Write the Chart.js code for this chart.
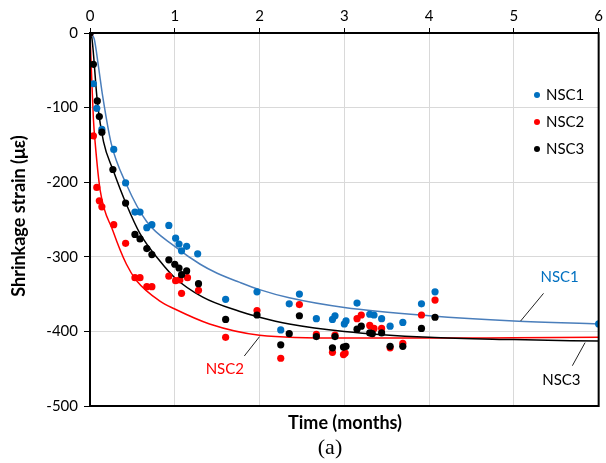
<!DOCTYPE html>
<html>
<head>
<meta charset="utf-8">
<script src="https://cdn.jsdelivr.net/npm/chart.js@4/dist/chart.umd.min.js"></script>
<style>
  html, body { margin: 0; padding: 0; background: #fff; }
  #wrap { width: 606px; height: 463px; position: relative; }
</style>
</head>
<body>
<div id="wrap"><canvas id="shrinkChart"></canvas></div>
<script>
// measured shrinkage (time in months, strain in microstrain)
const nsc1Time = [0, 0.04, 0.08, 0.14, 0.28, 0.42, 0.53, 0.59, 0.67, 0.73, 0.93, 1.01, 1.05, 1.08, 1.14, 1.27, 1.60, 1.97, 2.25, 2.35, 2.47, 2.67, 2.86, 2.89, 3.00, 3.02, 3.15, 3.30, 3.35, 3.44, 3.54, 3.69, 3.91, 4.07, 6.0];
const nsc1Strain = [0, -68, -101, -129, -156, -201, -240, -240, -261, -257, -258, -275, -283, -292, -286, -296, -357, -347, -398, -363, -350, -383, -384, -379, -390, -386, -362, -377, -378, -383, -393, -388, -363, -347, -390];

const nsc2Time = [0, 0.04, 0.08, 0.11, 0.14, 0.28, 0.42, 0.53, 0.59, 0.67, 0.73, 0.93, 1.01, 1.06, 1.08, 1.15, 1.28, 1.60, 1.97, 2.25, 2.47, 2.67, 2.86, 2.89, 2.99, 3.01, 3.15, 3.20, 3.30, 3.35, 3.44, 3.54, 3.69, 3.91, 4.07];
const nsc2Strain = [0, -138, -207, -225, -233, -257, -282, -328, -328, -340, -340, -326, -332, -331, -349, -328, -345, -408, -372, -436, -364, -404, -428, -405, -431, -429, -383, -378, -392, -396, -396, -422, -416, -378, -358];

const nsc3Time = [0, 0.04, 0.086, 0.11, 0.14, 0.27, 0.42, 0.53, 0.59, 0.67, 0.73, 0.93, 1.00, 1.05, 1.08, 1.14, 1.28, 1.60, 1.97, 2.25, 2.35, 2.47, 2.67, 2.86, 2.89, 2.99, 3.02, 3.15, 3.20, 3.30, 3.33, 3.44, 3.54, 3.69, 3.91, 4.07];
const nsc3Strain = [0, -42, -91, -112, -133, -183, -228, -270, -276, -289, -297, -304, -310, -315, -324, -319, -336, -384, -378, -418, -403, -379, -407, -422, -407, -421, -420, -397, -393, -402, -403, -402, -420, -420, -396, -381];

// fitted trend curves
const fit1Time = [0, 0.05, 0.1, 0.15, 0.25, 0.43, 0.67, 1, 1.3, 1.5, 1.76, 2, 2.35, 3, 4, 5, 6];
const fit1Strain = [0, -8, -45, -85, -148, -203, -253, -286, -310, -322, -334, -344, -355, -368, -379, -386, -390];

const fit2Time = [0, 0.02, 0.04, 0.06, 0.12, 0.27, 0.43, 0.55, 0.82, 1, 1.41, 2, 3, 4, 5, 6];
const fit2Strain = [0, -60, -115, -146, -211, -265, -310, -332, -359, -370, -390, -405, -409, -409, -408.5, -408];

const fit3Time = [0, 0.02, 0.086, 0.16, 0.27, 0.43, 0.59, 0.82, 1, 1.33, 1.76, 2, 2.35, 3, 4, 5, 6];
const fit3Strain = [0, -5, -91, -146, -183, -230, -269, -305, -328, -354, -373, -381, -390, -400, -408, -411, -413];

const xTicks = [0, 1, 2, 3, 4, 5, 6];
const yTicks = [0, -100, -200, -300, -400, -500];

const BLUE = '#0070c0';
const BLUE_LINE = '#4a7ebb';
const RED = '#ff0000';
const BLACK = '#000000';
const FONT = 'Lato, "Liberation Sans", sans-serif';

const toXY = (ts, vs) => ts.map((t, i) => ({ x: t, y: vs[i] }));

function pointSet(label, ts, vs, color, order) {
  return {
    label,
    data: toXY(ts, vs),
    backgroundColor: color,
    borderColor: color,
    pointRadius: 3.6,
    pointBorderWidth: 0,
    showLine: false,
    order,
  };
}

function curveSet(ts, vs, color, order) {
  return {
    data: toXY(ts, vs),
    borderColor: color,
    borderWidth: 1.5,
    pointRadius: 0,
    showLine: true,
    cubicInterpolationMode: 'monotone',
    fill: false,
    order,
  };
}

// frame, legend, titles and curve labels
const extras = {
  id: 'extras',
  afterDatasetsDraw(chart) {
    const { ctx, chartArea: a, scales } = chart;
    const X = (v) => scales.x.getPixelForValue(v);
    const Y = (v) => scales.y.getPixelForValue(v);
    ctx.save();

    ctx.strokeStyle = BLACK;
    ctx.lineWidth = 2;
    ctx.strokeRect(a.left, a.top, a.right - a.left, a.bottom - a.top);

    // legend
    const items = [['NSC1', BLUE], ['NSC2', RED], ['NSC3', BLACK]];
    ctx.font = '15px ' + FONT;
    ctx.textBaseline = 'middle';
    ctx.textAlign = 'left';
    items.forEach(([name, col], i) => {
      const y = 95 + i * 27;
      ctx.fillStyle = col;
      ctx.beginPath();
      ctx.arc(537, y, 3, 0, Math.PI * 2);
      ctx.fill();
      ctx.fillStyle = BLACK;
      ctx.fillText(name, 546, y);
    });

    // curve labels with leader lines
    const tags = [
      { text: 'NSC1', color: BLUE, at: [5.54, -327], from: [5.35, -349], to: [5.08, -386] },
      { text: 'NSC2', color: RED, at: [1.59, -450], from: [1.82, -433], to: [2.0, -407] },
      { text: 'NSC3', color: BLACK, at: [5.56, -466], from: [5.69, -446], to: [5.84, -415] },
    ];
    ctx.lineWidth = 1;
    ctx.textAlign = 'center';
    tags.forEach((t) => {
      ctx.strokeStyle = '#222';
      ctx.beginPath();
      ctx.moveTo(X(t.from[0]), Y(t.from[1]));
      ctx.lineTo(X(t.to[0]), Y(t.to[1]));
      ctx.stroke();
      ctx.fillStyle = t.color;
      ctx.fillText(t.text, X(t.at[0]), Y(t.at[1]));
    });

    // axis titles
    ctx.fillStyle = BLACK;
    ctx.font = 'bold 18px ' + FONT;
    ctx.fillText('Time (months)', 345, 423);
    ctx.save();
    ctx.translate(19, 216);
    ctx.rotate(-Math.PI / 2);
    ctx.fillText('Shrinkage strain (\u03bc\u03b5)', 0, 0);
    ctx.restore();

    ctx.font = '22px "Liberation Serif", serif';
    ctx.fillText('(a)', 330, 448);
    ctx.restore();
  },
};

new Chart(document.getElementById('shrinkChart'), {
  type: 'scatter',
  data: {
    datasets: [
      pointSet('NSC1', nsc1Time, nsc1Strain, BLUE, 2),
      pointSet('NSC2', nsc2Time, nsc2Strain, RED, 1),
      pointSet('NSC3', nsc3Time, nsc3Strain, BLACK, 0),
      curveSet(fit1Time, fit1Strain, BLUE_LINE, 5),
      curveSet(fit2Time, fit2Strain, RED, 4),
      curveSet(fit3Time, fit3Strain, BLACK, 3),
    ],
  },
  options: {
    responsive: true,
    maintainAspectRatio: false,
    animation: false,
    layout: { padding: { left: 0, right: 6, top: 0, bottom: 57 } },
    plugins: { legend: { display: false }, tooltip: { enabled: false } },
    scales: {
      x: {
        type: 'linear',
        position: 'top',
        min: 0,
        max: 6,
        afterFit: (s) => { s.height = 33; },
        afterBuildTicks: (s) => { s.ticks = xTicks.map((v) => ({ value: v })); },
        ticks: { color: BLACK, font: { family: FONT, size: 15 }, padding: 3 },
        grid: { color: '#d9d9d9', lineWidth: 1, tickLength: 5, tickColor: BLACK },
        border: { color: BLACK, width: 2 },
      },
      y: {
        min: -500,
        max: 0,
        afterFit: (s) => { s.width = 90; },
        afterBuildTicks: (s) => { s.ticks = yTicks.map((v) => ({ value: v })); },
        ticks: { color: BLACK, font: { family: FONT, size: 15 }, padding: 6 },
        grid: { color: '#d9d9d9', lineWidth: 1, tickLength: 6, tickColor: BLACK },
        border: { color: BLACK, width: 2 },
      },
    },
  },
  plugins: [extras],
});
</script>
</body>
</html>
